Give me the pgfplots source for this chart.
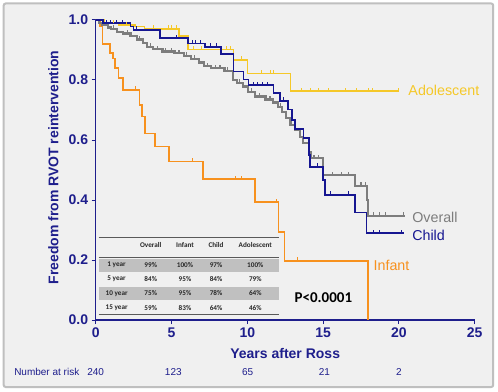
\documentclass[border=0pt]{standalone}
\usepackage{pgfplots}
\pgfplotsset{compat=1.18}
\usepackage{fontspec}
\setmainfont{Liberation Sans}
\newfontfamily\calfont{Carlito}
\definecolor{navy}{RGB}{30,30,140}
\definecolor{cblue}{RGB}{22,22,145}
\definecolor{cgray}{RGB}{125,125,125}
\definecolor{corange}{RGB}{247,145,30}
\definecolor{cyellow}{RGB}{245,200,40}
\definecolor{panel}{RGB}{240,240,240}
\definecolor{band}{RGB}{192,192,192}
\definecolor{tabtext}{RGB}{40,40,40}
\pgfdeclareplotmark{cens}{\pgfpathmoveto{\pgfpointorigin}\pgfpathlineto{\pgfpoint{0pt}{3.5pt}}\pgfusepathqstroke}
\begin{document}
\begin{tikzpicture}
\path[use as bounding box] (-95.7pt,-71pt) rectangle (402.3pt,320pt);
\fill[white] (-95.7pt,-71pt) rectangle (402.3pt,320pt);
\draw[draw=black!25, line width=2pt, fill=panel, rounded corners=2pt] (-92pt,-67pt) rectangle (397.5pt,316.5pt);
\begin{axis}[
  at={(0pt,0pt)}, anchor=south west, scale only axis,
  width=379pt, height=300pt,
  xmin=0, xmax=25, ymin=0, ymax=1,
  axis lines=left,
  axis line style={-, navy, line width=1.2pt},
  xtick={0,5,10,15,20,25},
  ytick={0,0.2,0.4,0.6,0.8,1.0},
  tick align=outside, major tick length=4pt,
  tick style={navy, line width=1pt},
  /pgf/number format/assume math mode=true,
  tick label style={font=\bfseries\fontsize{14}{16}\selectfont, text=navy},
  yticklabel style={/pgf/number format/.cd, fixed, fixed zerofill, precision=1},
  xlabel={Years after Ross},
  xlabel style={at={(axis description cs:0.5,-0.113)}, anchor=center, font=\bfseries\fontsize{14}{16}\selectfont, text=navy},
  ylabel={Freedom from RVOT reintervention},
  ylabel style={at={(axis description cs:-0.112,0.508)}, anchor=center, font=\bfseries\fontsize{14}{16}\selectfont, text=navy},
  clip=false,
]
% table backdrop
\fill[band] (axis cs:0.2,0.161) rectangle (axis cs:12.1,0.205);
\fill[band] (axis cs:0.2,0.067) rectangle (axis cs:12.1,0.111);
\draw[black!65, line width=0.8pt] (axis cs:0.2,0.274) -- (axis cs:12.1,0.274);
\draw[black!65, line width=1.6pt] (axis cs:0.2,0.208) -- (axis cs:12.1,0.208);
\draw[black!65, line width=1pt] (axis cs:0.2,0.017) -- (axis cs:12.1,0.017);
\begin{scope}[every node/.style={font=\calfont\bfseries\fontsize{7.2}{8}\selectfont, text=tabtext, anchor=center}]
\node at (axis cs:3.63,0.25) {Overall};
\node at (axis cs:5.89,0.25) {Infant};
\node at (axis cs:7.94,0.25) {Child};
\node at (axis cs:10.53,0.25) {Adolescent};
\node at (axis cs:1.38,0.184) {1 year};
\node at (axis cs:3.63,0.184) {99\%};
\node at (axis cs:5.89,0.184) {100\%};
\node at (axis cs:7.94,0.184) {97\%};
\node at (axis cs:10.53,0.184) {100\%};
\node at (axis cs:1.38,0.136) {5 year};
\node at (axis cs:3.63,0.136) {84\%};
\node at (axis cs:5.89,0.136) {95\%};
\node at (axis cs:7.94,0.136) {84\%};
\node at (axis cs:10.53,0.136) {79\%};
\node at (axis cs:1.38,0.089) {10 year};
\node at (axis cs:3.63,0.089) {75\%};
\node at (axis cs:5.89,0.089) {95\%};
\node at (axis cs:7.94,0.089) {78\%};
\node at (axis cs:10.53,0.089) {64\%};
\node at (axis cs:1.38,0.04) {15 year};
\node at (axis cs:3.63,0.04) {59\%};
\node at (axis cs:5.89,0.04) {83\%};
\node at (axis cs:7.94,0.04) {64\%};
\node at (axis cs:10.53,0.04) {46\%};
\end{scope}
% Adolescent
\addplot[const plot, cyellow, line width=1.4pt] coordinates {
(0,1) (0.6,0.989) (1.5,0.983) (2.6,0.978) (3.2,0.97) (5.5,0.947) (6.1,0.902) (9.08,0.867) (10.0,0.822) (12.85,0.763) (20.0,0.763)};
\addplot[only marks, mark=cens, cyellow, line width=1pt] coordinates {
(1.0,0.989)(1.2,0.989)(2.0,0.983)(3.8,0.97)(4.8,0.97)(5.0,0.97)(5.35,0.97)(6.44,0.902)(7.0,0.902)(8.64,0.902)(8.86,0.902)(9.6,0.867)(10.95,0.822)(11.5,0.822)(11.7,0.822)(13.6,0.763)(14.2,0.763)(14.7,0.763)(15.35,0.763)(16.45,0.763)(17.2,0.763)(17.98,0.763)(18.27,0.763)(19.96,0.763)};
% Infant
\addplot[const plot, corange, line width=1.7pt] coordinates {
(0,1) (0.3,0.978) (0.45,0.92) (0.95,0.89) (1.15,0.872) (1.27,0.84) (1.5,0.806) (1.82,0.767) (2.88,0.717) (3.05,0.678) (3.25,0.622) (3.92,0.578) (4.84,0.528) (7.08,0.469) (10.5,0.393) (12.05,0.293) (12.45,0.197) (17.95,0.0)};
\addplot[only marks, mark=cens, corange, line width=1pt] coordinates {
(2.6,0.767)(6.4,0.528)(9.2,0.469)(9.65,0.469)(11.9,0.393)(13.3,0.197)};
% Overall
\addplot[const plot, cgray, line width=2.2pt] coordinates {
(0,1) (0.2,0.99) (0.45,0.983) (0.8,0.975) (1.0,0.97) (1.4,0.961) (1.8,0.955) (2.3,0.947) (2.7,0.935) (3.1,0.922) (3.4,0.91) (3.8,0.902) (4.4,0.895) (5.2,0.889) (5.8,0.88) (6.3,0.87) (6.8,0.858) (7.15,0.846) (7.6,0.839) (8.5,0.83) (9.05,0.8) (9.3,0.79) (9.7,0.778) (10.05,0.76) (10.5,0.745) (11.2,0.735) (11.7,0.725) (12.0,0.711) (12.3,0.694) (12.55,0.672) (12.85,0.65) (13.15,0.633) (13.5,0.611) (13.7,0.589) (14.09,0.56) (14.2,0.539) (15.0,0.483) (17.1,0.447) (17.87,0.40) (17.95,0.347) (20.4,0.347)};
\addplot[only marks, mark=cens, cgray, line width=1.2pt] coordinates {
(1.2,0.97)(2.1,0.955)(2.9,0.935)(3.6,0.91)(4.1,0.902)(4.6,0.895)(5.0,0.895)(5.5,0.889)(6.0,0.88)(6.5,0.87)(7.4,0.846)(7.9,0.839)(8.2,0.839)(8.7,0.83)(9.5,0.79)(10.3,0.76)(10.8,0.745)(11.5,0.735)(12.2,0.711)(14.4,0.539)(14.7,0.539)(15.6,0.483)(16.2,0.483)(16.7,0.483)(17.5,0.447)(17.8,0.447)(18.3,0.347)(18.7,0.347)(19.1,0.347)(20.3,0.347)};
% Child
\addplot[const plot, cblue, line width=1.7pt] coordinates {
(0,1) (0.5,0.989) (2.3,0.978) (2.5,0.967) (4.24,0.939) (6.1,0.922) (7.2,0.911) (8.27,0.887) (9.08,0.828) (9.74,0.802) (10.07,0.783) (11.72,0.757) (12.16,0.73) (12.7,0.702) (12.93,0.667) (13.15,0.636) (13.7,0.606) (14.09,0.55) (14.15,0.511) (15.0,0.467) (15.12,0.417) (17.1,0.358) (17.87,0.289) (20.35,0.289)};
\addplot[only marks, mark=cens, cblue, line width=1pt] coordinates {
(0.7,0.989)(1.0,0.989)(1.4,0.989)(1.8,0.989)(2.7,0.967)(5.3,0.939)(6.4,0.922)(6.6,0.922)(6.9,0.922)(7.6,0.911)(8.0,0.911)(10.4,0.783)(10.7,0.783)(11.0,0.783)(11.3,0.783)(12.4,0.73)(14.6,0.511)(15.46,0.417)(16.67,0.417)(18.3,0.289)(18.75,0.289)(20.2,0.289)};
% labels
\node[anchor=west, text=cyellow, font=\fontsize{14.3}{16}\selectfont] at (axis cs:20.4,0.765) {Adolescent};
\node[anchor=west, text=cgray, font=\fontsize{14.3}{16}\selectfont] at (axis cs:20.65,0.342) {Overall};
\node[anchor=west, text=cblue, font=\fontsize{14.3}{16}\selectfont] at (axis cs:20.65,0.283) {Child};
\node[anchor=west, text=corange, font=\fontsize{14.3}{16}\selectfont] at (axis cs:18.1,0.181) {Infant};
\node[anchor=center, font=\calfont\bfseries\fontsize{15}{17}\selectfont] at (axis cs:15.02,0.074) {P<0.0001};
% number at risk
\begin{scope}[every node/.style={text=navy, font=\fontsize{10}{12}\selectfont}]
\node[anchor=east] at (axis cs:-0.85,-0.173) {Number at risk};
\node[anchor=center] at (axis cs:0,-0.173) {240};
\node[anchor=center] at (axis cs:5.12,-0.173) {123};
\node[anchor=center] at (axis cs:10.02,-0.173) {65};
\node[anchor=center] at (axis cs:15.08,-0.173) {21};
\node[anchor=center] at (axis cs:20.0,-0.173) {2};
\end{scope}
\end{axis}
\end{tikzpicture}
\end{document}
